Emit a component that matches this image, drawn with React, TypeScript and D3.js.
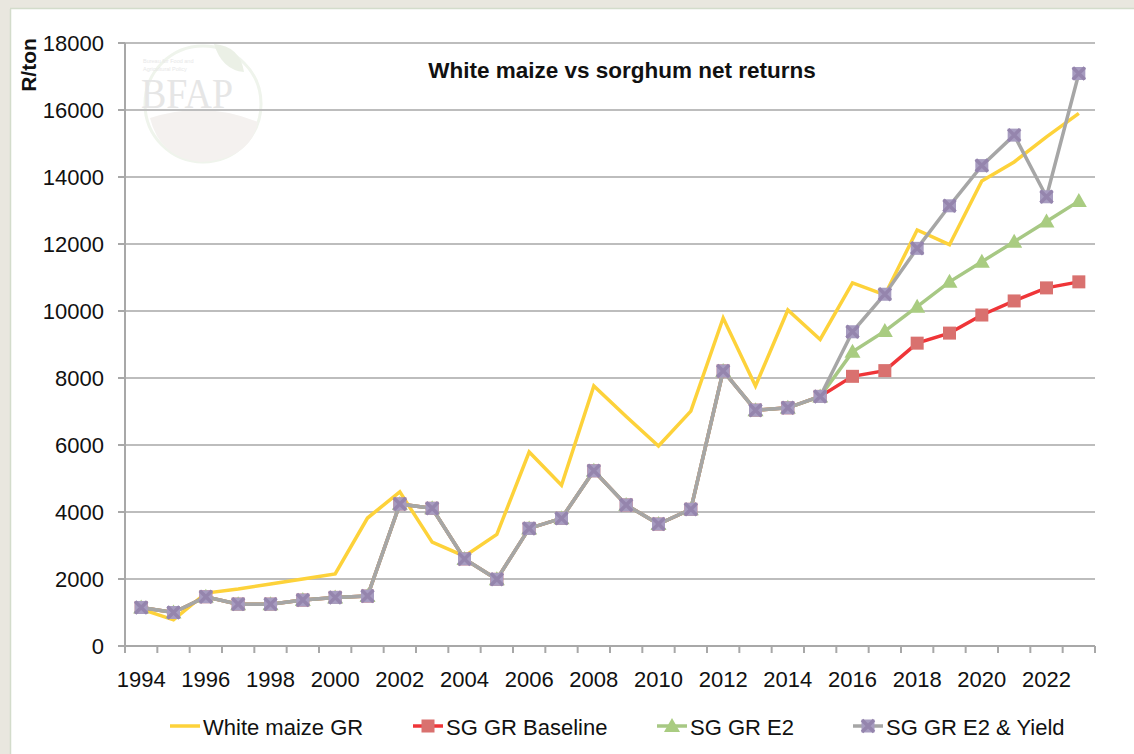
import React from 'react';
import * as d3 from 'd3';

// chart values
const years = d3.range(1994, 2024);
const whiteMaize = [1100, 780, 1580, 1700, 1850, 2000, 2150, 3820, 4600, 3100, 2680, 3330, 5790, 4800, 7760, 6850, 5970, 7010, 9790, 7760, 10030, 9150, 10840, 10480, 12420, 11980, 13880, 14450, 15200, 15900];
const sgBaseline = [1150, 1000, 1470, 1250, 1250, 1370, 1450, 1490, 4240, 4110, 2600, 1990, 3510, 3810, 5230, 4210, 3640, 4080, 8210, 7040, 7110, 7450, 8050, 8220, 9040, 9340, 9880, 10300, 10690, 10870];
const sgE2 = [1150, 1000, 1470, 1250, 1250, 1370, 1450, 1490, 4240, 4110, 2600, 1990, 3510, 3810, 5230, 4210, 3640, 4080, 8210, 7040, 7110, 7450, 8780, 9400, 10130, 10870, 11470, 12070, 12670, 13280];
const sgE2Yield = [1150, 1000, 1470, 1250, 1250, 1370, 1450, 1490, 4240, 4110, 2600, 1990, 3510, 3810, 5230, 4210, 3640, 4080, 8210, 7040, 7110, 7450, 9380, 10500, 11870, 13140, 14340, 15250, 13410, 17090];
const yTicks = [0, 2000, 4000, 6000, 8000, 10000, 12000, 14000, 16000, 18000];
const seriesNames = ['White maize GR', 'SG GR Baseline', 'SG GR E2', 'SG GR E2 & Yield'];

const W = 1134;
const H = 754;
const font = '"Liberation Sans", Arial, Helvetica, sans-serif';

const Marker = ({ kind, x, y }) => {
  if (kind === 'square') {
    return <rect x={x - 6.5} y={y - 6.5} width={13} height={13} fill="#d9716f" />;
  }
  if (kind === 'triangle') {
    return <path d={`M${x},${y - 8}L${x + 8},${y + 6}L${x - 8},${y + 6}Z`} fill="#a9cc81" />;
  }
  if (kind === 'cross') {
    return (
      <g>
        <rect x={x - 6.5} y={y - 6.5} width={13} height={13} fill="#a79cc0" />
        <path d={`M${x - 6},${y - 6}L${x + 6},${y + 6}M${x + 6},${y - 6}L${x - 6},${y + 6}`} stroke="#9585ad" strokeWidth={3.5} />
      </g>
    );
  }
  return null;
};

const App = () => {
  const x = d3.scaleBand<number>().domain(years).range([125, 1095]);
  const y = d3.scaleLinear().domain([0, 18000]).range([646, 43]);
  const cx = (yr: number) => (x(yr) as number) + x.bandwidth() / 2;

  const line = d3
    .line<number>()
    .x((_, i) => cx(years[i]))
    .y((d) => y(d));

  const series = [
    { name: seriesNames[0], values: whiteMaize, color: '#fdd23a', marker: 'none' },
    { name: seriesNames[1], values: sgBaseline, color: '#ef3538', marker: 'square' },
    { name: seriesNames[2], values: sgE2, color: '#a7c884', marker: 'triangle' },
    { name: seriesNames[3], values: sgE2Yield, color: '#a6a6a6', marker: 'cross' },
  ];

  const boundaries = d3.range(years.length + 1).map((i) => 125 + i * x.bandwidth());
  const legendX = [170, 413, 657, 853];

  return (
    <svg width={W} height={H} style={{ position: 'absolute', left: 0, top: 0, display: 'block' }}>
      <rect width={W} height={H} fill="#ffffff" />
      {/* window frame */}
      <rect x={0} y={0} width={W} height={8} fill="#e9e7df" />
      <rect x={0} y={0} width={10} height={H} fill="#e9e7df" />
      <line x1={10.5} y1={9} x2={10.5} y2={H} stroke="#d3dccb" strokeWidth={1.5} />
      <line x1={10} y1={8.5} x2={W} y2={8.5} stroke="#d3dccb" strokeWidth={1.5} />

      {/* faint BFAP watermark */}
      <g opacity={0.9}>
        <circle cx={203} cy={104} r={58} fill="none" stroke="#eef3ea" strokeWidth={3} />
        <path d="M150,118 Q205,100 258,122 Q250,160 200,162 Q160,158 150,118Z" fill="#f3f0ee" />
        <path d="M214,44 Q240,46 244,72 Q222,70 214,44Z" fill="#e9efe4" />
        <text x={143} y={63} fontFamily={font} fontSize={5.5} fill="#e6e6e6">Bureau for Food and</text>
        <text x={143} y={71} fontFamily={font} fontSize={5.5} fill="#e6e6e6">Agricultural Policy</text>
        <text x={141} y={108} fontFamily='"Liberation Serif", "Times New Roman", serif' fontSize={42} fill="#e4e4e4" textLength={92} lengthAdjust="spacingAndGlyphs">BFAP</text>
      </g>

      {/* gridlines and y ticks */}
      {yTicks.map((t) => (
        <g key={t}>
          {t > 0 && <line x1={118} x2={1095} y1={y(t)} y2={y(t)} stroke="#bdbdbd" strokeWidth={2} />}
          <line x1={118} x2={125} y1={y(t)} y2={y(t)} stroke="#a8a8a8" strokeWidth={2} />
          <text x={104} y={y(t) + 8} textAnchor="end" fontFamily={font} fontSize={22} fill="#111">{t}</text>
        </g>
      ))}

      {/* axes */}
      <line x1={125} x2={125} y1={43} y2={646} stroke="#a8a8a8" strokeWidth={2} />
      <line x1={118} x2={1095} y1={646} y2={646} stroke="#a8a8a8" strokeWidth={2} />
      {boundaries.map((b, i) => (
        <line key={i} x1={b} x2={b} y1={646} y2={653} stroke="#a8a8a8" strokeWidth={2} />
      ))}
      {years.filter((yr) => (yr - 1994) % 2 === 0).map((yr) => (
        <text key={yr} x={cx(yr)} y={687} textAnchor="middle" fontFamily={font} fontSize={22} fill="#111">{yr}</text>
      ))}

      {/* titles */}
      <text x={622} y={78} textAnchor="middle" fontFamily={font} fontSize={22.5} fontWeight="bold" fill="#111">White maize vs sorghum net returns</text>
      <text transform="translate(36,65) rotate(-90)" textAnchor="middle" fontFamily={font} fontSize={21} fontWeight="bold" fill="#111">R/ton</text>

      {/* series */}
      {series.map((s) => (
        <g key={s.name}>
          <path d={line(s.values) || ''} fill="none" stroke={s.color} strokeWidth={3.5} strokeLinejoin="miter" />
          {s.values.map((v, i) => (
            <Marker key={i} kind={s.marker} x={cx(years[i])} y={y(v)} />
          ))}
        </g>
      ))}

      {/* legend */}
      {series.map((s, i) => (
        <g key={s.name}>
          <line x1={legendX[i]} x2={legendX[i] + 30} y1={726} y2={726} stroke={s.color} strokeWidth={3.5} />
          <Marker kind={s.marker} x={legendX[i] + 15} y={726} />
          <text x={legendX[i] + 33} y={735} fontFamily={font} fontSize={22} fill="#111">{s.name}</text>
        </g>
      ))}
    </svg>
  );
};

export default App;
